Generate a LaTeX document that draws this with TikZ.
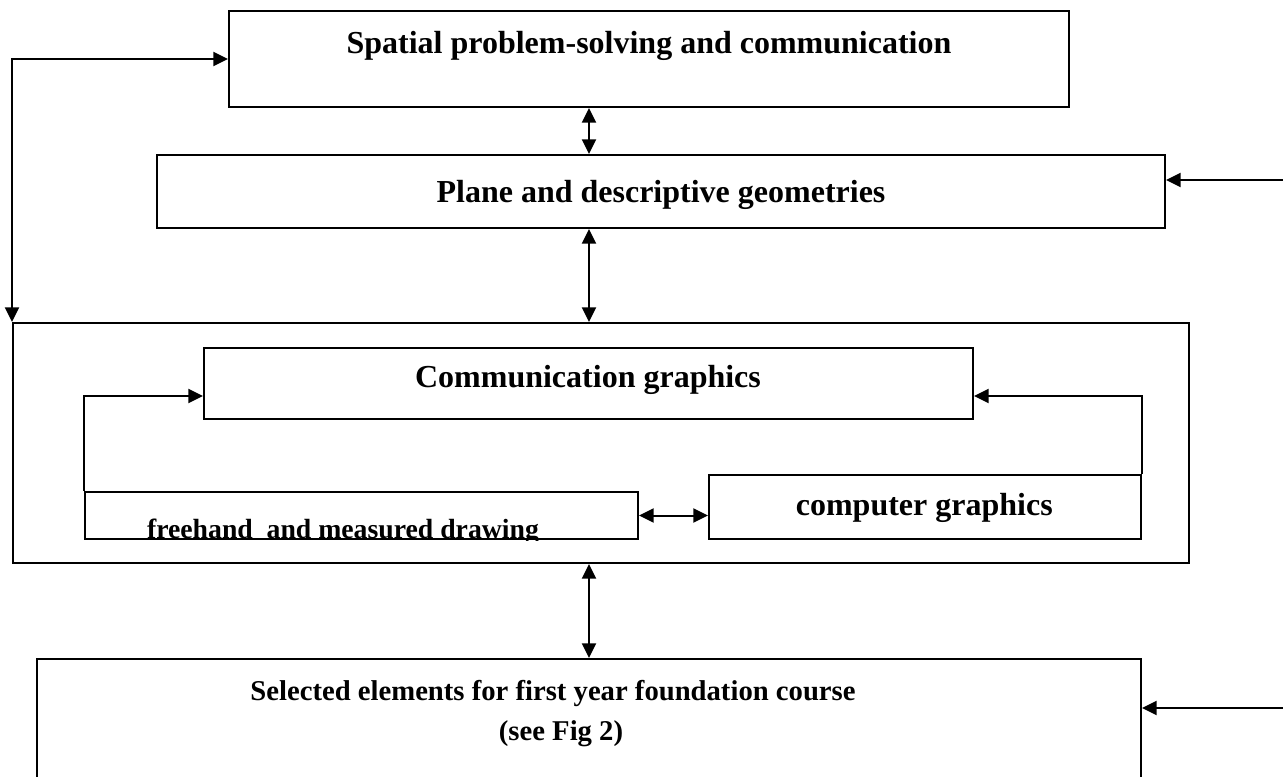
\documentclass[tikz,border=0pt]{standalone}
\usepackage{fontspec}
\setmainfont{Liberation Serif}
\usetikzlibrary{arrows.meta,fit}
\begin{document}
\begin{tikzpicture}[x=0.75pt,y=-0.75pt,
  box/.style={draw,line width=1.5pt,inner sep=0pt,rectangle},
  lbl/.style={font=\bfseries\fontsize{24}{29}\selectfont,inner sep=0pt,anchor=base},
  slbl/.style={font=\bfseries\fontsize{21.5}{26}\selectfont,inner sep=0pt,anchor=base},
  flbl/.style={font=\bfseries\fontsize{20.8}{25}\selectfont,inner sep=0pt,anchor=base},
  conn/.style={line width=1.5pt},
  tip/.style={-{Triangle[length=11pt,width=10.5pt]}},
  dtip/.style={{Triangle[length=11pt,width=10.5pt]}-{Triangle[length=11pt,width=10.5pt]}}]
\useasboundingbox (0,0) rectangle (1283,776);
\clip (0,0) rectangle (1283,776);
% boxes
\node[box,fit={(229,11)(1069,107)}] (spatial) {};
\node[box,fit={(157,155)(1165,228)}] (plane) {};
\node[box,fit={(13,323)(1189,563)}] (cont) {};
\node[box,fit={(204,348)(973,419)}] (comm) {};
\node[box,fit={(85,492)(638,539)}] (free) {};
\node[box,fit={(709,475)(1141,539)}] (comp) {};
\node[box,fit={(37,659)(1141,820)}] (sel) {};
% texts
\node[lbl] (t1) at (649,53) {Spatial problem-solving and communication};
\node[lbl] (t2) at (661,202) {Plane and descriptive geometries};
\node[lbl] (t3) at (588,387) {Communication graphics};
\begin{scope}
\clip (free.south west) rectangle (free.north east);
\node[flbl] (t4) at (343,538) {freehand\ \ and measured drawing};
\end{scope}
\node[lbl,anchor=base east] (t5) at (1053,515) {computer graphics};
\node[slbl] (t6) at (553,700) {Selected elements for first year foundation course};
\node[slbl] (t7) at (561,740) {(see Fig 2)};
% connectors
\coordinate (ax) at (589,0);
\coordinate (cy) at (0,396);
\coordinate (r2) at (1283,180);
\coordinate (r7) at (1283,708);
\draw[conn,dtip] (spatial.south -| ax) -- (plane.north -| ax);
\draw[conn,dtip] (plane.south -| ax) -- (cont.north -| ax);
\draw[conn,dtip] (cont.south -| ax) -- (sel.north -| ax);
\draw[conn,dtip] (spatial.west) -| (cont.north west);
\draw[conn,tip] (r2) -- (r2 -| plane.east);
\draw[conn,tip] (r7) -- (r7 -| sel.east);
\draw[conn,tip] (free.north west) |- (comm.west |- cy);
\draw[conn,tip] (comp.north east) |- (comm.east |- cy);
\draw[conn,dtip] (free.east) -- (free.east -| comp.west);
\end{tikzpicture}
\end{document}
